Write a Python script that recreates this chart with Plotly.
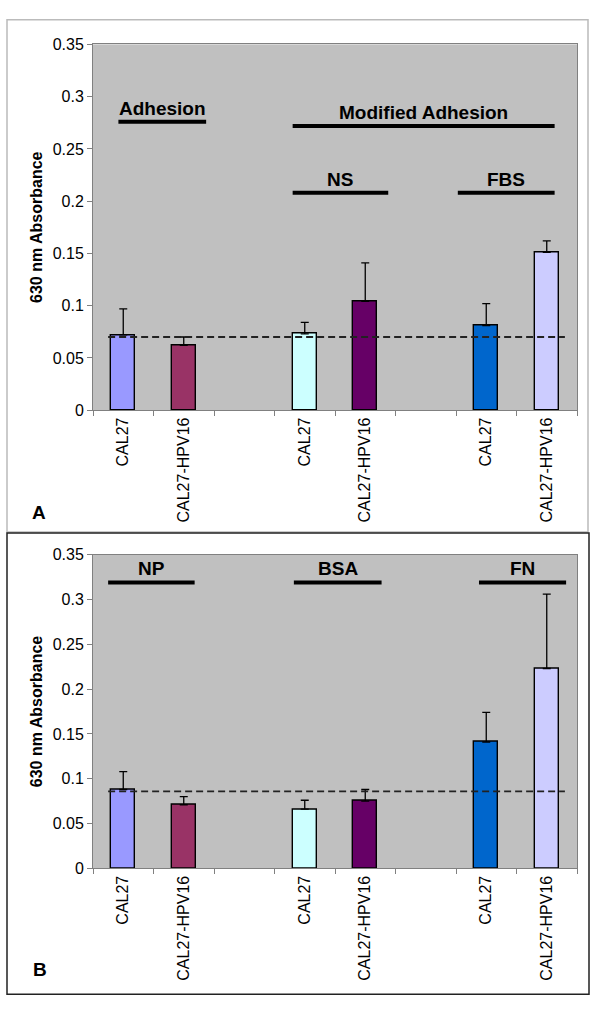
import plotly.graph_objects as pGraph

# bar slots on the category axis (slots 2 and 5 are empty spacers)
slots = [0, 1, 3, 4, 6, 7]
cellLines = ["CAL27", "CAL27-HPV16", "CAL27", "CAL27-HPV16", "CAL27", "CAL27-HPV16"]
barColors = ["#9999FF", "#993366", "#CCFFFF", "#660066", "#0066CC", "#CCCCFF"]

# panel A
aMeans = [0.072, 0.062, 0.073, 0.104, 0.081, 0.151]
aErrors = [0.025, 0.008, 0.011, 0.037, 0.021, 0.011]
aBaseline = 0.070
aGroups = ["Adhesion", "Modified Adhesion", "NS", "FBS"]
aGroupFrom = [-0.08, 2.8, 2.8, 5.53]
aGroupTo = [1.37, 7.13, 4.38, 7.13]
aGroupLevel = [0.276, 0.272, 0.208, 0.208]

# panel B
bMeans = [0.088, 0.071, 0.066, 0.075, 0.141, 0.223]
bErrors = [0.020, 0.009, 0.010, 0.013, 0.033, 0.083]
bBaseline = 0.086
bGroups = ["NP", "BSA", "FN"]
bGroupFrom = [-0.25, 2.82, 5.88]
bGroupTo = [1.18, 4.27, 7.32]
bGroupLevel = [0.319, 0.319, 0.319]

yTicks = [0, 0.05, 0.1, 0.15, 0.2, 0.25, 0.3, 0.35]

H = 1016
W = 600
font = "Liberation Sans, Arial, sans-serif"

fig = pGraph.Figure()

panels = [
    ("x", "y", aMeans, aErrors, aBaseline, aGroups, aGroupFrom, aGroupTo, aGroupLevel),
    ("x2", "y2", bMeans, bErrors, bBaseline, bGroups, bGroupFrom, bGroupTo, bGroupLevel),
]

annotations = []
shapes = []
for xa, ya, means, errs, base, groups, g0, g1, glev in panels:
    fig.add_trace(pGraph.Bar(
        x=slots, y=means, width=0.4,
        marker=dict(color=barColors, line=dict(color="black", width=1.4)),
        error_y=dict(type="data", array=errs, arrayminus=[0] * len(errs),
                     symmetric=False, color="black", thickness=1.3, width=4),
        xaxis=xa, yaxis=ya, showlegend=False,
    ))
    fig.add_trace(pGraph.Scatter(
        x=[-0.25, 7.3], y=[base, base], mode="lines",
        line=dict(color="#222222", width=1.8, dash="7px,4px"),
        xaxis=xa, yaxis=ya, showlegend=False, hoverinfo="skip",
    ))
    for name, a, b, lev in zip(groups, g0, g1, glev):
        shapes.append(dict(type="line", xref=xa, yref=ya, x0=a, x1=b, y0=lev, y1=lev,
                           line=dict(color="black", width=4)))
        annotations.append(dict(xref=xa, yref=ya, x=(a + b) / 2, y=lev, yanchor="bottom",
                                yshift=1, showarrow=False, text="<b>%s</b>" % name,
                                font=dict(size=19, color="black", family=font)))

# panel frames
shapes.append(dict(type="rect", xref="paper", yref="paper", x0=7 / W, x1=588 / W,
                   y0=1 - 533 / H, y1=1 - 12 / H, line=dict(color="#BBBBBB", width=1.5)))
shapes.append(dict(type="rect", xref="paper", yref="paper", x0=7 / W, x1=589 / W,
                   y0=1 - 1003 / H, y1=1 - 534 / H, line=dict(color="#222222", width=1.5)))

for letter, lx, ly in [("A", 39, 513), ("B", 40, 978)]:
    annotations.append(dict(xref="paper", yref="paper", x=lx / W, y=1 - ly / H,
                            xanchor="center", yanchor="middle", showarrow=False,
                            text="<b>%s</b>" % letter,
                            font=dict(size=19, color="black", family=font)))

xCommon = dict(
    range=[-0.5, 7.5], tickmode="array", tickvals=slots, ticktext=cellLines,
    tickangle=-90, ticks="", ticklabelstandoff=0,
    showline=True, linecolor="#808080", linewidth=1, mirror=True,
    showgrid=False, zeroline=False,
    tickfont=dict(size=16, color="black", family=font),
    minor=dict(tickmode="linear", tick0=-0.5, dtick=1, ticks="outside",
               ticklen=5, tickcolor="#808080", showgrid=False),
)
yCommon = dict(
    range=[0, 0.35], tickmode="array", tickvals=yTicks, ticks="outside", ticklen=5,
    tickcolor="#808080", showline=True, linecolor="#808080", linewidth=1, mirror=True,
    showgrid=False, zeroline=False,
    tickfont=dict(size=16, color="black", family=font),
    title=dict(text="<b>630 nm Absorbance</b>", standoff=6,
               font=dict(size=16, color="black", family=font)),
)

fig.update_layout(
    width=W, height=H,
    margin=dict(l=0, r=0, t=0, b=0),
    paper_bgcolor="white", plot_bgcolor="#C0C0C0",
    xaxis=dict(xCommon, domain=[93 / W, 577 / W], anchor="y"),
    yaxis=dict(yCommon, domain=[1 - 409 / H, 1 - 37 / H], anchor="x"),
    xaxis2=dict(xCommon, domain=[93 / W, 577 / W], anchor="y2"),
    yaxis2=dict(yCommon, domain=[1 - 875 / H, 1 - 556 / H], anchor="x2"),
    shapes=shapes, annotations=annotations, bargap=0,
)

# drop the default page margin so the figure sits at the window origin
fig.write_html("out.html", config={"displayModeBar": False},
               post_script="document.body.style.margin='0';")
